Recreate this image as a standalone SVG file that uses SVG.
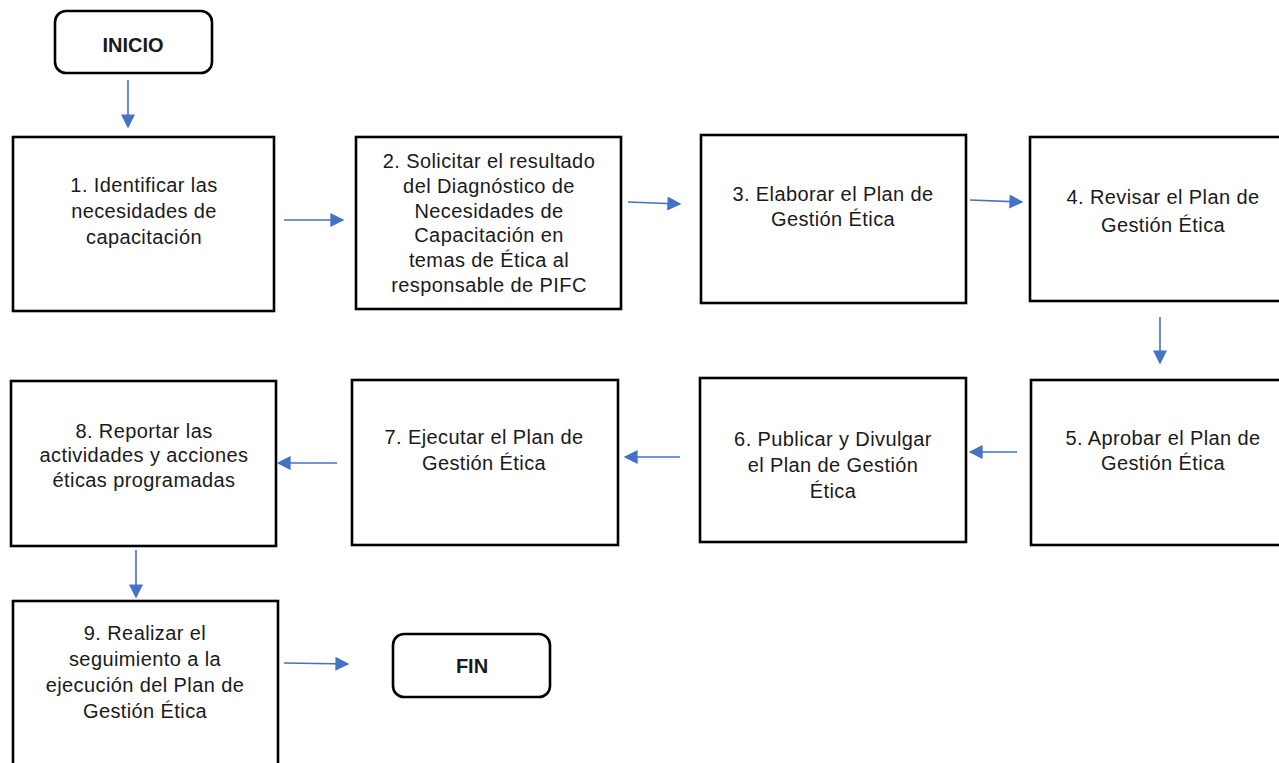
<svg xmlns="http://www.w3.org/2000/svg" width="1279" height="763" viewBox="0 0 1279 763">
<style>
.box{fill:#fff;stroke:#000;stroke-width:2.6}
.term{fill:#fff;stroke:#000;stroke-width:2.6}
.t{font-family:"Liberation Sans",Arial,sans-serif;font-size:20px;letter-spacing:0.4px;fill:#1a1a1a;text-anchor:middle}
.tb{font-family:"Liberation Sans",Arial,sans-serif;font-size:20px;font-weight:bold;fill:#1a1a1a;text-anchor:middle}
.c line{stroke:#4472C4;stroke-width:1.6;marker-end:url(#ah)}
</style>
<defs>
<marker id="ah" viewBox="0 0 10 10" refX="9" refY="5" markerWidth="15" markerHeight="14" markerUnits="userSpaceOnUse" orient="auto">
<path d="M0,0 L10,5 L0,10 z" fill="#4472C4"/>
</marker>
</defs>
<rect width="1279" height="763" fill="#fff"/>
<g id="inicio"><rect class="term" x="55" y="11" width="157" height="62" rx="11"/><text class="tb" x="133" y="52">INICIO</text></g>
<g id="n1"><rect class="box" x="13" y="137" width="261" height="174"/>
<text class="t" x="144" y="192">1. Identificar las</text><text class="t" x="144" y="218">necesidades de</text><text class="t" x="144" y="244">capacitación</text></g>
<g id="n2"><rect class="box" x="356" y="137" width="265" height="172"/>
<text class="t" x="489" y="168">2. Solicitar el resultado</text><text class="t" x="489" y="193">del Diagnóstico de</text><text class="t" x="489" y="218">Necesidades de</text><text class="t" x="489" y="242">Capacitación en</text><text class="t" x="489" y="267">temas de Ética al</text><text class="t" x="489" y="292">responsable de PIFC</text></g>
<g id="n3"><rect class="box" x="701" y="135" width="265" height="168"/>
<text class="t" x="833" y="201">3. Elaborar el Plan de</text><text class="t" x="833" y="226">Gestión Ética</text></g>
<g id="n4"><rect class="box" x="1030" y="137" width="262" height="164"/>
<text class="t" x="1163" y="204">4. Revisar el Plan de</text><text class="t" x="1163" y="232">Gestión Ética</text></g>
<g id="n5"><rect class="box" x="1031" y="380" width="262" height="165"/>
<text class="t" x="1163" y="445">5. Aprobar el Plan de</text><text class="t" x="1163" y="470">Gestión Ética</text></g>
<g id="n6"><rect class="box" x="700" y="378" width="266" height="164"/>
<text class="t" x="833" y="446">6. Publicar y Divulgar</text><text class="t" x="833" y="472">el Plan de Gestión</text><text class="t" x="833" y="498">Ética</text></g>
<g id="n7"><rect class="box" x="352" y="380" width="266" height="165"/>
<text class="t" x="484" y="444">7. Ejecutar el Plan de</text><text class="t" x="484" y="470">Gestión Ética</text></g>
<g id="n8"><rect class="box" x="11" y="381" width="265" height="165"/>
<text class="t" x="144" y="438">8. Reportar las</text><text class="t" x="144" y="462">actividades y acciones</text><text class="t" x="144" y="487">éticas  programadas</text></g>
<g id="n9"><rect class="box" x="13" y="601" width="265" height="180"/>
<text class="t" x="145" y="640">9. Realizar  el</text><text class="t" x="145" y="666">seguimiento a la</text><text class="t" x="145" y="692">ejecución del Plan de</text><text class="t" x="145" y="718">Gestión Ética</text></g>
<g id="fin"><rect class="term" x="393" y="634" width="157" height="63" rx="11"/><text class="tb" x="472" y="673">FIN</text></g>
<g class="c" id="connectors">
<line x1="128" y1="80" x2="128" y2="127"/>
<line x1="284" y1="220" x2="343" y2="220"/>
<line x1="628" y1="202" x2="680" y2="204"/>
<line x1="970" y1="200" x2="1022" y2="202"/>
<line x1="1160" y1="317" x2="1160" y2="363"/>
<line x1="1017" y1="452" x2="970" y2="452"/>
<line x1="680" y1="457" x2="625" y2="457"/>
<line x1="337" y1="463" x2="278" y2="463"/>
<line x1="136" y1="550" x2="136" y2="597"/>
<line x1="284" y1="663" x2="348" y2="664"/>
</g>
</svg>
